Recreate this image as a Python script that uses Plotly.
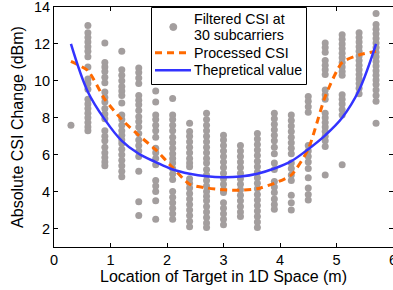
import plotly.graph_objects as go

# Locations of the target (m)
locations = [0.3, 0.6, 0.9, 1.2, 1.5, 1.8, 2.1, 2.4, 2.7, 3.0,
             3.3, 3.6, 3.9, 4.2, 4.5, 4.8, 5.1, 5.4, 5.7]

# Filtered CSI at 30 subcarriers (dBm), one list per location
csi_0_3 = [7.6]
csi_0_6 = [13.0, 12.6, 12.35, 12.1, 11.85, 11.6, 11.3, 10.75, 10.1, 9.85, 9.55,
           9.0, 8.75, 8.5, 8.25, 8.0, 7.75, 7.5, 7.3]
csi_0_9 = [12.05, 11.0, 10.75, 10.5, 10.2, 9.9, 9.4, 9.1, 8.85, 8.5, 8.2, 7.95,
           7.3, 7.0, 6.75, 6.4, 6.1, 5.85, 5.6, 5.4]
csi_1_2 = [11.6, 10.6, 10.3, 10.0, 9.7, 9.45, 9.2, 8.8, 8.15, 7.9, 7.6, 7.3,
           7.05, 6.8, 6.6, 6.3, 6.0, 5.7, 5.4, 5.1, 4.8]
csi_1_5 = [10.7, 10.45, 10.15, 9.85, 9.2, 8.95, 8.7, 8.4, 8.05, 7.8, 7.5, 7.15,
           6.8, 6.5, 6.2, 5.9, 5.1, 3.45, 2.7]
csi_1_8 = [9.45, 8.85, 8.15, 7.9, 7.6, 7.3, 6.95, 6.35, 6.1, 5.8, 5.45, 4.6,
           4.3, 4.0, 3.5, 2.5]
csi_2_1 = [9.05, 8.15, 7.9, 7.6, 7.3, 6.95, 6.65, 6.35, 6.05, 5.8, 5.55, 5.25,
           4.95, 4.65, 4.0, 3.7, 3.4, 3.1, 2.8, 2.5]
csi_2_4 = [7.7, 7.25, 7.0, 6.7, 6.4, 6.1, 5.8, 5.55, 5.35, 4.7, 4.45, 4.2, 3.9,
           3.6, 3.3, 3.0, 2.7, 2.4, 2.1]
csi_2_7 = [8.25, 7.9, 7.6, 7.3, 7.0, 6.7, 6.4, 6.1, 5.8, 5.55, 5.2, 4.9, 4.6,
           4.3, 4.0, 3.75, 3.5, 3.2, 2.9, 2.6, 2.3, 2.05]
csi_3_0 = [7.05, 6.8, 6.5, 6.2, 5.9, 5.6, 5.3, 5.0, 4.7, 4.4, 4.1, 3.95, 3.4,
           3.1, 2.8, 2.5, 2.2]
csi_3_3 = [6.5, 6.2, 5.9, 5.6, 5.3, 5.0, 4.7, 4.4, 4.1, 3.8, 3.5, 3.2, 2.9, 2.65]
csi_3_6 = [7.15, 6.85, 6.55, 6.25, 5.95, 5.65, 5.35, 5.05, 4.75, 4.45, 4.15,
           3.85, 3.55, 3.25, 2.95, 2.65, 2.35, 2.05]
csi_3_9 = [8.25, 7.95, 7.65, 7.35, 7.05, 6.75, 6.4, 6.05, 5.55, 5.2, 4.55, 4.25,
           3.95, 3.6, 3.3, 3.05]
csi_4_2 = [8.15, 7.85, 7.55, 7.25, 6.95, 6.65, 6.35, 6.05, 5.55, 5.25, 4.9, 4.6,
           3.8, 3.4, 3.0]
csi_4_5 = [9.15, 8.9, 8.6, 8.3, 6.5, 6.2, 5.9, 5.6, 5.25, 4.75, 4.2, 3.85, 3.55]
csi_4_8 = [12.05, 11.8, 11.55, 11.1, 10.85, 10.6, 10.35, 9.5, 9.25, 9.0, 8.25,
           8.0, 7.75, 7.5, 7.25, 7.0, 6.75, 6.45, 4.9]
csi_5_1 = [12.5, 12.25, 12.0, 11.75, 11.5, 11.25, 11.0, 10.75, 10.5, 10.3, 9.25,
           9.0, 8.75, 8.45, 8.15, 5.45]
csi_5_4 = [12.6, 12.35, 12.1, 11.85, 11.6, 11.35, 11.1, 10.85, 10.6, 10.35,
           10.1, 9.85, 9.6, 9.3]
csi_5_7 = [13.65, 13.05, 12.8, 12.55, 12.3, 12.05, 11.8, 11.55, 11.3, 11.05,
           10.8, 10.55, 10.3, 10.05, 9.8, 9.5, 9.2, 8.9, 7.7]

filtered_columns = [csi_0_3, csi_0_6, csi_0_9, csi_1_2, csi_1_5, csi_1_8,
                    csi_2_1, csi_2_4, csi_2_7, csi_3_0, csi_3_3, csi_3_6,
                    csi_3_9, csi_4_2, csi_4_5, csi_4_8, csi_5_1, csi_5_4,
                    csi_5_7]

# Processed CSI (dBm)
processed = [11.05, 10.55, 9.0, 7.9, 7.05, 6.27, 5.3, 4.4, 4.2, 4.1, 4.07,
             4.16, 4.45, 4.9, 6.3, 9.15, 11.0, 11.4, 11.6]

# Theoretical value (dBm)
theory = [12.0, 9.4, 7.9, 6.75, 6.05, 5.6, 5.2, 4.97, 4.83, 4.78, 4.82, 4.97,
          5.25, 5.65, 6.3, 7.05, 8.0, 9.5, 12.0]

# Labels
x_title = "Location of Target in 1D Space (m)"
y_title = "Absolute CSI Change (dBm)"
legend_lines = ["Filtered CSI at", "30 subcarriers", "Processed CSI",
                "Thepretical value"]
x_ticks = [0, 1, 2, 3, 4, 5, 6]
y_ticks = [2, 4, 6, 8, 10, 12, 14]

FONT = "Liberation Sans, Arial, Helvetica, sans-serif"
GRAY = "#a39e9e"
ORANGE = "#ff6a00"
BLUE = "#3333ff"

W, H = 393, 290
ML, MR, MT, MB = 54, 0, 7, 43
PW, PH = W - ML - MR, H - MT - MB
XR = [0, 6]
YR = [1, 14]


def dx(p):  # pixel x -> data x (for the hand-made legend frame)
    return XR[0] + (p - ML) / PW * (XR[1] - XR[0])


def dy(p):  # pixel y -> data y
    return YR[1] - (p - MT) / PH * (YR[1] - YR[0])


scatter_x, scatter_y = [], []
for loc, vals in zip(locations, filtered_columns):
    scatter_x += [loc] * len(vals)
    scatter_y += vals

fig = go.Figure()
fig.add_trace(go.Scatter(
    x=scatter_x, y=scatter_y, mode="markers", name="Filtered CSI",
    marker=dict(size=7, color=GRAY, line=dict(width=0))))
fig.add_trace(go.Scatter(
    x=locations, y=processed, mode="lines", name="Processed CSI",
    line=dict(color=ORANGE, width=3, dash="7px,5px", shape="spline",
              smoothing=0.6)))
fig.add_trace(go.Scatter(
    x=locations, y=theory, mode="lines", name="Theoretical",
    line=dict(color=BLUE, width=2.5, shape="spline", smoothing=1.0)))
# invisible trace for right-side ticks
fig.add_trace(go.Scatter(x=[None], y=[None], yaxis="y2", showlegend=False,
                         hoverinfo="skip"))

# ---- legend box drawn by hand (MATLAB style) ----
shapes = [
    dict(type="rect", xref="x", yref="y",
         x0=dx(151.5), x1=dx(306.5), y0=dy(84.5), y1=dy(7.5),
         line=dict(color="black", width=1), fillcolor="white",
         opacity=1, layer="above"),
    dict(type="circle", xref="x", yref="y",
         x0=dx(169.8), x1=dx(176.8), y0=dy(30.5), y1=dy(23.5),
         line=dict(color=GRAY, width=1), fillcolor=GRAY, opacity=1,
         layer="above"),
    dict(type="line", xref="x", yref="y",
         x0=dx(155), x1=dx(191), y0=dy(52.7), y1=dy(52.7),
         line=dict(color=ORANGE, width=3, dash="7px,5px"), layer="above"),
    dict(type="line", xref="x", yref="y",
         x0=dx(155), x1=dx(191), y0=dy(70.3), y1=dy(70.3),
         line=dict(color=BLUE, width=2.5), layer="above"),
]
text_y = [18.7, 35.3, 52.7, 70.3]
annotations = [
    dict(text=t, xref="x", yref="y", x=dx(192), y=dy(yy),
         xanchor="left", yanchor="middle", showarrow=False,
         font=dict(family=FONT, size=14.2, color="black"))
    for t, yy in zip(legend_lines, text_y)
]

fig.update_layout(
    width=W, height=H,
    margin=dict(l=ML, r=MR, t=MT, b=MB, autoexpand=False),
    paper_bgcolor="white", plot_bgcolor="white",
    font=dict(family=FONT, color="black", size=14.5),
    showlegend=False,
    shapes=shapes,
    annotations=annotations,
    xaxis=dict(range=XR, tickvals=x_ticks, ticks="inside", ticklen=4,
               tickcolor="black", showline=True, linecolor="black",
               linewidth=1, mirror="ticks", showgrid=False, zeroline=False,
               automargin=False, ticklabeloverflow="allow",
               tickfont=dict(size=14.5),
               title=dict(text=x_title, font=dict(size=16), standoff=0)),
    yaxis=dict(range=YR, tickvals=y_ticks, ticks="inside", ticklen=4,
               tickcolor="black", showline=True, linecolor="black",
               linewidth=1, mirror=False, showgrid=False, zeroline=False,
               automargin=False, ticklabeloverflow="allow",
               tickfont=dict(size=14.5),
               title=dict(text=y_title, font=dict(size=16), standoff=6)),
    yaxis2=dict(range=YR, tickvals=y_ticks, ticks="inside", ticklen=4,
                tickcolor="black", overlaying="y", side="right",
                showticklabels=False, showline=False, showgrid=False,
                zeroline=False, automargin=False),
)

fig.write_html(
    "out.html",
    config={"displayModeBar": False},
    post_script="document.body.style.margin='0';document.body.style.padding='0';",
)
